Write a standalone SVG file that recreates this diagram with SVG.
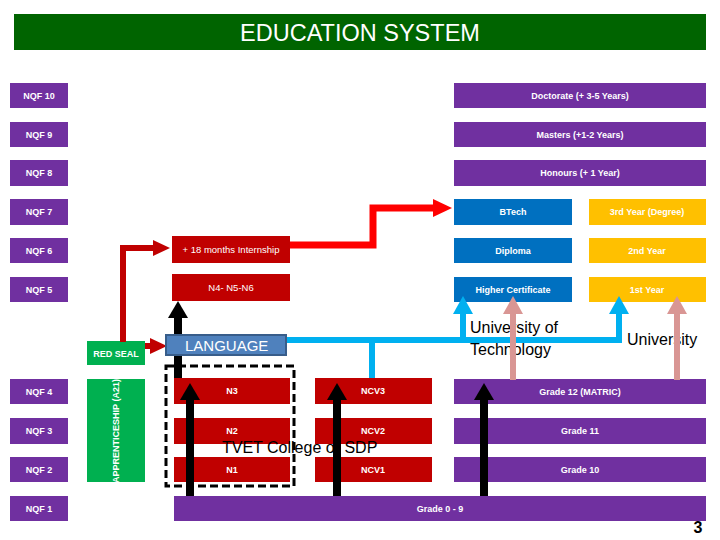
<svg xmlns="http://www.w3.org/2000/svg" width="720" height="540" viewBox="0 0 720 540">
<style>
.pu{fill:#7030A0}
.dr{fill:#C00000}
.gr{fill:#00B050}
.bl{fill:#0070C0}
.go{fill:#FFC000}
.t{font-family:"Liberation Sans",Arial,sans-serif;font-size:9px;font-weight:bold;fill:#fff;text-anchor:middle}
.tn{font-family:"Liberation Sans",Arial,sans-serif;font-size:9.5px;fill:#fff;text-anchor:middle}
.lab{font-family:"Liberation Sans",Arial,sans-serif;font-size:16px;fill:#000}
.ln{fill:none;stroke-linejoin:miter}
</style>
<defs>
<marker id="ahk" markerUnits="userSpaceOnUse" markerWidth="18" markerHeight="20" refX="0" refY="10" orient="auto"><path d="M0,0 L17,10 L0,20 z" fill="#000"/></marker>
<marker id="ahb" markerUnits="userSpaceOnUse" markerWidth="18" markerHeight="20" refX="0" refY="10" orient="auto"><path d="M0,0 L18,10 L0,20 z" fill="#00B0F0"/></marker>
<marker id="ahp" markerUnits="userSpaceOnUse" markerWidth="18" markerHeight="20" refX="0" refY="10" orient="auto"><path d="M0,0 L18,10 L0,20 z" fill="#D99694"/></marker>
<marker id="ahr" markerUnits="userSpaceOnUse" markerWidth="19" markerHeight="18" refX="0" refY="9" orient="auto"><path d="M0,0 L19,9 L0,18 z" fill="#FF0000"/></marker>
<marker id="ahd" markerUnits="userSpaceOnUse" markerWidth="17" markerHeight="16" refX="0" refY="8" orient="auto"><path d="M0,0 L17,8 L0,16 z" fill="#C00000"/></marker>
</defs>
<rect width="720" height="540" fill="#fff"/>
<g id="title"><rect x="14" y="14" width="692" height="36" fill="#006400"/><text x="360" y="41" font-family="Liberation Sans,Arial,sans-serif" font-size="23.5" fill="#fff" text-anchor="middle">EDUCATION SYSTEM</text></g>
<g id="nqf10"><rect class="pu" x="10" y="83" width="58" height="25"/><text class="t" x="39" y="99">NQF 10</text></g>
<g id="nqf9"><rect class="pu" x="10" y="122" width="58" height="25"/><text class="t" x="39" y="138">NQF 9</text></g>
<g id="nqf8"><rect class="pu" x="10" y="160" width="58" height="26"/><text class="t" x="39" y="176">NQF 8</text></g>
<g id="nqf7"><rect class="pu" x="10" y="199" width="58" height="26"/><text class="t" x="39" y="215">NQF 7</text></g>
<g id="nqf6"><rect class="pu" x="10" y="238" width="58" height="25"/><text class="t" x="39" y="254">NQF 6</text></g>
<g id="nqf5"><rect class="pu" x="10" y="277" width="58" height="25"/><text class="t" x="39" y="293">NQF 5</text></g>
<g id="nqf4"><rect class="pu" x="10" y="379" width="58" height="25"/><text class="t" x="39" y="395">NQF 4</text></g>
<g id="nqf3"><rect class="pu" x="10" y="418" width="58" height="26"/><text class="t" x="39" y="434">NQF 3</text></g>
<g id="nqf2"><rect class="pu" x="10" y="457" width="58" height="25"/><text class="t" x="39" y="473">NQF 2</text></g>
<g id="nqf1"><rect class="pu" x="10" y="496" width="58" height="25"/><text class="t" x="39" y="512">NQF 1</text></g>
<g id="redseal"><rect class="gr" x="87" y="341" width="58" height="24"/><text class="t" x="116" y="357">RED SEAL</text></g>
<g id="apprenticeship"><rect class="gr" x="87" y="379" width="58" height="103"/><text class="t" font-size="8.5" transform="translate(119,431) rotate(-90)">APPRENTICESHIP (A21)</text></g>
<g id="doctorate"><rect class="pu" x="454" y="83" width="252" height="25"/><text class="t" x="580" y="99">Doctorate (+ 3-5 Years)</text></g>
<g id="masters"><rect class="pu" x="454" y="122" width="252" height="25"/><text class="t" x="580" y="138">Masters  (+1-2 Years)</text></g>
<g id="honours"><rect class="pu" x="454" y="160" width="252" height="26"/><text class="t" x="580" y="176">Honours  (+ 1 Year)</text></g>
<g id="btech"><rect class="bl" x="454" y="199" width="118" height="26"/><text class="t" x="513" y="215">BTech</text></g>
<g id="diploma"><rect class="bl" x="454" y="238" width="118" height="25"/><text class="t" x="513" y="254">Diploma</text></g>
<g id="highercert"><rect class="bl" x="454" y="277" width="118" height="25"/><text class="t" x="513" y="293">Higher Certificate</text></g>
<g id="year3"><rect class="go" x="589" y="199" width="117" height="26"/><text class="t" x="647" y="215">3rd Year (Degree)</text></g>
<g id="year2"><rect class="go" x="589" y="238" width="117" height="25"/><text class="t" x="647" y="254">2nd Year</text></g>
<g id="year1"><rect class="go" x="589" y="277" width="117" height="25"/><text class="t" x="647" y="293">1st Year</text></g>
<g id="grade12"><rect class="pu" x="454" y="379" width="252" height="25"/><text class="t" x="580" y="395">Grade 12 (MATRIC)</text></g>
<g id="grade11"><rect class="pu" x="454" y="418" width="252" height="26"/><text class="t" x="580" y="434">Grade 11</text></g>
<g id="grade10"><rect class="pu" x="454" y="457" width="252" height="25"/><text class="t" x="580" y="473">Grade 10</text></g>
<g id="grade0-9"><rect class="pu" x="174" y="496" width="532" height="25"/><text class="t" x="440" y="512">Grade 0 - 9</text></g>
<g id="internship"><rect class="dr" x="172" y="236" width="118" height="27"/><text class="tn" x="231" y="253">+ 18 months Internship</text></g>
<g id="n4n6"><rect class="dr" x="172" y="274" width="118" height="27"/><text class="tn" x="231" y="291">N4- N5-N6</text></g>
<g id="n3"><rect class="dr" x="174" y="378" width="116" height="26"/><text class="t" x="232" y="394">N3</text></g>
<g id="n2"><rect class="dr" x="174" y="418" width="116" height="26"/><text class="t" x="232" y="434">N2</text></g>
<g id="n1"><rect class="dr" x="174" y="457" width="116" height="25"/><text class="t" x="232" y="473">N1</text></g>
<g id="ncv3"><rect class="dr" x="315" y="378" width="117" height="26"/><text class="t" x="373" y="394">NCV3</text></g>
<g id="ncv2"><rect class="dr" x="315" y="418" width="117" height="26"/><text class="t" x="373" y="434">NCV2</text></g>
<g id="ncv1"><rect class="dr" x="315" y="457" width="117" height="25"/><text class="t" x="373" y="473">NCV1</text></g>
<g id="tvet"><rect x="166" y="366" width="128" height="120" fill="none" stroke="#000" stroke-width="3" stroke-dasharray="8,4"/><text class="lab" x="222" y="453" font-size="14.5">TVET College or  SDP</text></g>
<g id="labels">
<text class="lab" x="470" y="333">University of</text>
<text class="lab" x="470" y="355">Technology</text>
<text class="lab" x="627" y="345">University</text>
<text x="698" y="533" font-family="Liberation Sans,Arial,sans-serif" font-size="16" font-weight="bold" fill="#000" text-anchor="middle">3</text>
</g>
<g id="connectors">
<path class="ln" d="M123,342 V248 H153" stroke="#C00000" stroke-width="6" marker-end="url(#ahd)"/>
<path class="ln" d="M145,346 H150" stroke="#C00000" stroke-width="6" marker-end="url(#ahd)"/>
<path class="ln" d="M290,245 H373 V208 H433" stroke="#FF0000" stroke-width="7" marker-end="url(#ahr)"/>
<path class="ln" d="M287,340 H619 V314" stroke="#00B0F0" stroke-width="6" marker-end="url(#ahb)"/>
<path class="ln" d="M463,340 V314" stroke="#00B0F0" stroke-width="6" marker-end="url(#ahb)"/>
<path class="ln" d="M372,340 V378" stroke="#00B0F0" stroke-width="6"/>
<path class="ln" d="M513,380 V314" stroke="#D99694" stroke-width="6" marker-end="url(#ahp)"/>
<path class="ln" d="M677,380 V314" stroke="#D99694" stroke-width="6" marker-end="url(#ahp)"/>
<path class="ln" d="M178,378 V318" stroke="#000" stroke-width="8" marker-end="url(#ahk)"/>
<path class="ln" d="M190,496 V400" stroke="#000" stroke-width="8" marker-end="url(#ahk)"/>
<path class="ln" d="M337,496 V400" stroke="#000" stroke-width="8" marker-end="url(#ahk)"/>
<path class="ln" d="M484,496 V400" stroke="#000" stroke-width="8" marker-end="url(#ahk)"/>
</g>
<g id="language"><rect x="166" y="335" width="120" height="20" fill="#4F81BD" stroke="#385D8A" stroke-width="2"/><text x="185" y="351" font-family="Liberation Sans,Arial,sans-serif" font-size="15" fill="#fff">LANGUAGE</text></g>
</svg>
